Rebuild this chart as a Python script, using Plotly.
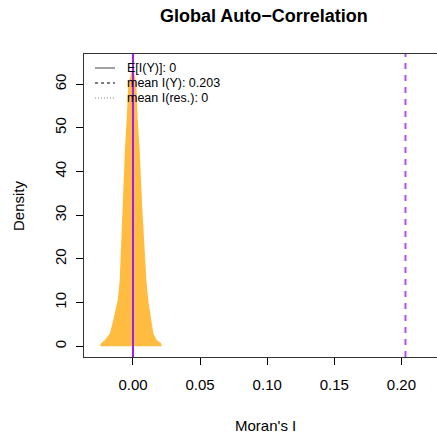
import plotly.graph_objects as go

# Simulated null distribution of Moran's I: density outline (left flank up, right flank down)
density_x = [-0.0246, -0.0238, -0.0209, -0.0171, -0.0147, -0.0114, -0.0099, -0.0091,
             -0.0075, -0.0060, -0.0047, -0.0035, 0.0000,
             0.0025, 0.0035, 0.0050, 0.0067, 0.0084, 0.0100, 0.0114, 0.0134,
             0.0151, 0.0176, 0.0209, 0.0215]
density_y = [0.0, 0.7, 1.45, 3.0, 6.0, 10.5, 15.0, 22.0,
             33.0, 45.0, 52.0, 59.8, 64.3,
             59.8, 52.0, 45.0, 33.0, 22.0, 15.0, 10.5, 6.0,
             3.0, 1.45, 0.7, 0.0]

# Reference statistics
expected_I = 0.0
mean_I_Y = 0.203
mean_I_res = 0.0

legend_labels = ["E[I(Y)]: 0", "mean I(Y): 0.203", "mean I(res.): 0"]
legend_dashes = ["solid", "3px,3px", "1px,2px"]
legend_colors = ["#444444", "#000000", "#888888"]

x_ticks = [0.0, 0.05, 0.10, 0.15, 0.20]
y_ticks = [0, 10, 20, 30, 40, 50, 60]

W, H = 437, 434
L, R, T, B = 84, 0, 54, 77
pw, ph = W - L - R, H - T - B


def px_x(px):
    return (px - L) / pw


def px_y(py):
    return (H - B - py) / ph


fig = go.Figure()
fig.add_trace(go.Scatter(
    x=density_x, y=density_y, mode="lines", fill="toself",
    fillcolor="#FFBC40", line=dict(width=0, color="#FFBC40"),
    hoverinfo="skip", showlegend=False,
))

purple = "#A020F0"
fig.add_shape(type="line", xref="x", yref="paper", x0=mean_I_res, x1=mean_I_res,
              y0=0, y1=1, line=dict(color=purple, width=2, dash="dot"))
fig.add_shape(type="line", xref="x", yref="paper", x0=expected_I, x1=expected_I,
              y0=0, y1=1, line=dict(color=purple, width=2, dash="solid"))
fig.add_shape(type="line", xref="x", yref="paper", x0=mean_I_Y, x1=mean_I_Y,
              y0=0, y1=1, line=dict(color="#B050F0", width=2, dash="6px,6px"))

# Legend drawn manually (no box)
row_y = [68, 83, 98]
for lab, dsh, col, ry in zip(legend_labels, legend_dashes, legend_colors, row_y):
    fig.add_shape(type="line", xref="paper", yref="paper",
                  x0=px_x(95), x1=px_x(115), y0=px_y(ry), y1=px_y(ry),
                  line=dict(color=col, width=1, dash=dsh))
    fig.add_annotation(text=lab, xref="paper", yref="paper", x=px_x(125), y=px_y(ry),
                       xanchor="left", yanchor="middle", showarrow=False,
                       font=dict(size=12.5, color="#000000"))

font_family = "Liberation Sans, Arial, sans-serif"

fig.add_annotation(text="<b>Global Auto\u2212Correlation</b>", xref="paper", yref="paper",
                   x=px_x(264), y=px_y(16), xanchor="center", yanchor="middle",
                   showarrow=False, font=dict(size=18, color="#000000"))
fig.add_annotation(text="Moran's I", xref="paper", yref="paper",
                   x=px_x(265), y=px_y(425), xanchor="center", yanchor="middle",
                   showarrow=False, font=dict(size=15, color="#000000"))
fig.add_annotation(text="Density", xref="paper", yref="paper",
                   x=px_x(18), y=px_y(206), xanchor="center", yanchor="middle",
                   textangle=-90, showarrow=False, font=dict(size=15, color="#000000"))

fig.update_layout(
    width=W, height=H,
    margin=dict(l=L, r=R, t=T, b=B, pad=0),
    paper_bgcolor="white", plot_bgcolor="white",
    font=dict(family=font_family, color="#000000"),
    showlegend=False,
    xaxis=dict(
        range=[-0.0365, 0.2265], tickvals=x_ticks, tickformat=".2f",
        showgrid=False, zeroline=False, showline=True, mirror=True,
        linecolor="#333333", linewidth=1,
        ticks="outside", ticklen=7, tickcolor="#000000", tickwidth=1,
        tickfont=dict(size=15, color="#000000"), ticklabelstandoff=7,
    ),
    yaxis=dict(
        range=[-2.45, 66.9], tickvals=y_ticks,
        showgrid=False, zeroline=False, showline=True, mirror=False,
        linecolor="#333333", linewidth=1,
        ticks="outside", ticklen=7, tickcolor="#000000", tickwidth=1,
        tickangle=-90, tickfont=dict(size=15, color="#000000"), ticklabelstandoff=4,
    ),
)

fig.write_html("out.html")
